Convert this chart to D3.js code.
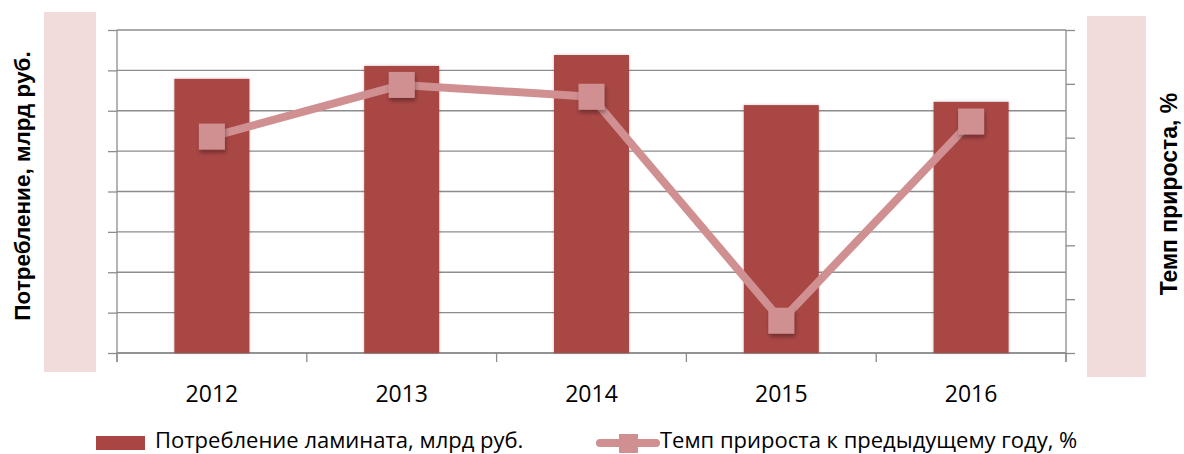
<!DOCTYPE html>
<html>
<head>
<meta charset="utf-8">
<style>
  body { margin: 0; background: #fff; }
  svg { display: block; }
</style>
</head>
<body>
<svg id="chart" width="1184" height="454"></svg>
<script src="https://d3js.org/d3.v7.min.js"></script>
<script>
  // data (axes have no value labels in the original)
  const years = ['2012', '2013', '2014', '2015', '2016']
  const consumption = [67.9, 71.1, 73.8, 61.4, 62.2]   // млрд руб.
  const growth = [0.1, 4.9, 3.8, -17.0, 1.5]           // %
  const barName = 'Потребление ламината, млрд руб.'
  const lineName = 'Темп прироста к предыдущему году, %'

  const svg = d3.select('#chart')
  const plotL = 117, plotR = 1066, plotT = 30, plotB = 353
  const barColor = '#a94644'
  const lineColor = '#d09091'
  const gridColor = '#8c8c8c'

  const defs = svg.append('defs')
  const sh = defs.append('filter').attr('id', 'shadow')
    .attr('x', '-30%').attr('y', '-30%').attr('width', '160%').attr('height', '160%')
  sh.append('feDropShadow').attr('dx', 1).attr('dy', 3).attr('stdDeviation', 2)
    .attr('flood-color', '#000').attr('flood-opacity', 0.35)
  const bsh = defs.append('filter').attr('id', 'barshadow')
    .attr('x', '-10%').attr('y', '-5%').attr('width', '120%').attr('height', '110%')
  bsh.append('feDropShadow').attr('dx', 0).attr('dy', 0).attr('stdDeviation', 1.5)
    .attr('flood-color', '#000').attr('flood-opacity', 0.25)

  // pink boxes behind the axis titles
  svg.append('rect').attr('x', 44).attr('y', 12).attr('width', 52).attr('height', 360).attr('fill', '#f2dcdb')
  svg.append('rect').attr('x', 1087).attr('y', 16).attr('width', 59).attr('height', 361).attr('fill', '#f2dcdb')

  const x = d3.scaleBand().domain(years).range([plotL, plotR])
  const y = d3.scaleLinear().domain([0, 80]).range([plotB, plotT])
  const y2 = d3.scaleLinear().domain([-20, 10]).range([plotB, plotT])

  // grid
  svg.append('g').selectAll('line').data(y.ticks(8)).join('line')
    .attr('x1', plotL).attr('x2', plotR)
    .attr('y1', d => y(d)).attr('y2', d => y(d))
    .attr('stroke', gridColor).attr('stroke-width', 1.3)

  // left axis
  const ax = svg.append('g').attr('transform', `translate(${plotL},0)`)
    .call(d3.axisLeft(y).ticks(8).tickSize(9).tickFormat(''))
  ax.select('.domain').attr('stroke', gridColor).attr('stroke-width', 1.3).attr('d', `M0,${plotT}V${plotB + 9}`)
  ax.selectAll('.tick line').attr('stroke', gridColor).attr('stroke-width', 1.3)

  // right axis
  const ax2 = svg.append('g').attr('transform', `translate(${plotR},0)`)
    .call(d3.axisRight(y2).ticks(6).tickSize(9).tickFormat(''))
  ax2.select('.domain').attr('stroke', gridColor).attr('stroke-width', 1.3).attr('d', `M0,${plotT}V${plotB + 9}`)
  ax2.selectAll('.tick line').attr('stroke', gridColor).attr('stroke-width', 1.3)

  // bottom axis with ticks at category boundaries
  svg.append('line').attr('x1', plotL).attr('x2', plotR).attr('y1', plotB).attr('y2', plotB)
    .attr('stroke', gridColor).attr('stroke-width', 1.3)
  const bounds = years.map(d => x(d)).concat([plotR])
  svg.append('g').selectAll('line').data(bounds).join('line')
    .attr('x1', d => d).attr('x2', d => d).attr('y1', plotB).attr('y2', plotB + 9)
    .attr('stroke', gridColor).attr('stroke-width', 1.3)

  svg.append('g').selectAll('text').data(years).join('text')
    .attr('x', d => x(d) + x.bandwidth() / 2).attr('y', 402)
    .attr('text-anchor', 'middle')
    .style('font-family', 'Open Sans').style('font-size', '23px').attr('fill', '#000')
    .text(d => d)

  // bars
  const bw = 75
  svg.append('g').selectAll('rect').data(consumption).join('rect')
    .attr('x', (d, i) => x(years[i]) + x.bandwidth() / 2 - bw / 2)
    .attr('width', bw)
    .attr('y', d => y(d))
    .attr('height', d => plotB - y(d))
    .attr('fill', barColor)
    .attr('filter', 'url(#barshadow)')

  // line + markers
  const line = d3.line()
    .x((d, i) => x(years[i]) + x.bandwidth() / 2)
    .y(d => y2(d))
  svg.append('path').datum(growth).attr('d', line)
    .attr('fill', 'none').attr('stroke', lineColor).attr('stroke-width', 8)
    .attr('stroke-linejoin', 'round')
  const ms = 26
  svg.append('g').selectAll('rect').data(growth).join('rect')
    .attr('x', (d, i) => x(years[i]) + x.bandwidth() / 2 - ms / 2)
    .attr('y', d => y2(d) - ms / 2)
    .attr('width', ms).attr('height', ms)
    .attr('fill', lineColor)
    .attr('filter', 'url(#shadow)')

  // axis titles
  svg.append('text').attr('transform', 'translate(30,186) rotate(-90)')
    .attr('text-anchor', 'middle')
    .style('font-family', 'Liberation Sans').style('font-weight', 'bold').style('font-size', '22.5px')
    .text('Потребление, млрд руб.')
  svg.append('text').attr('transform', 'translate(1177,194) rotate(-90)')
    .attr('text-anchor', 'middle')
    .style('font-family', 'Liberation Sans').style('font-weight', 'bold').style('font-size', '23px')
    .text('Темп прироста, %')

  // legend
  const lg = svg.append('g').style('font-family', 'Open Sans').style('font-size', '22px')
  lg.append('rect').attr('x', 96).attr('y', 436).attr('width', 49).attr('height', 14).attr('fill', barColor)
  lg.append('text').attr('x', 155).attr('y', 448).text(barName)
  lg.append('line').attr('x1', 600).attr('x2', 656).attr('y1', 443).attr('y2', 443)
    .attr('stroke', lineColor).attr('stroke-width', 8).attr('stroke-linecap', 'round')
  lg.append('rect').attr('x', 619).attr('y', 434).attr('width', 19).attr('height', 19).attr('fill', lineColor)
  lg.append('text').attr('x', 660).attr('y', 448).text(lineName)
</script>
</body>
</html>
